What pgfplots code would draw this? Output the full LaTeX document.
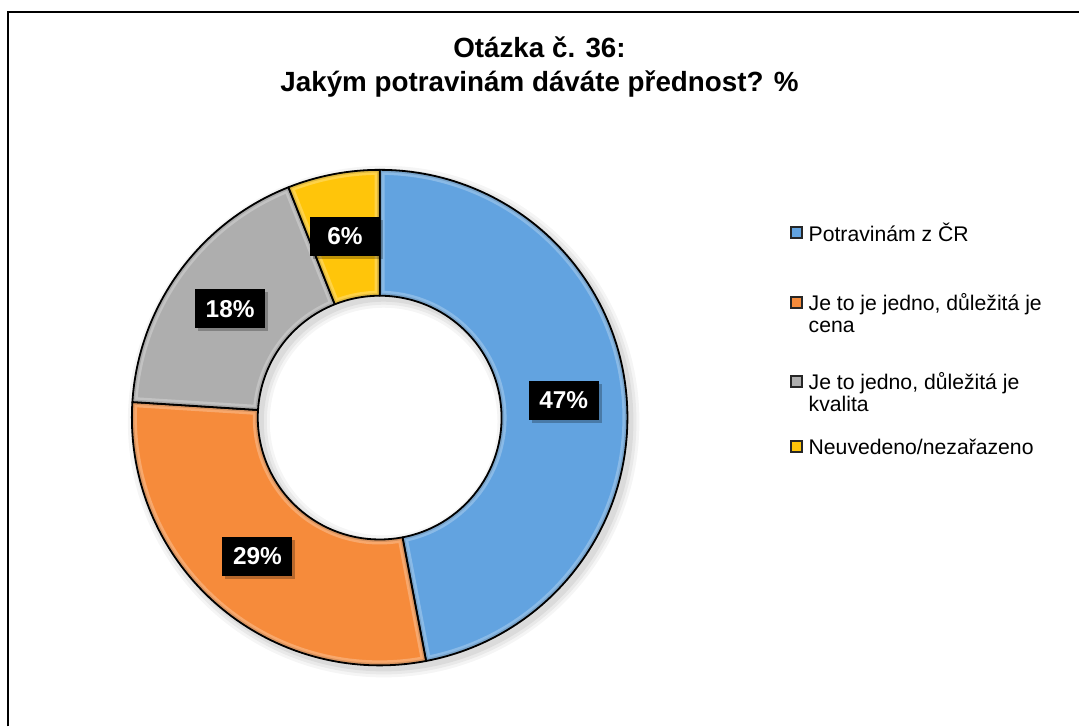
\documentclass[border=0pt]{standalone}
\usepackage{pgfplots}
\pgfplotsset{compat=1.18}
\usepackage{pgfplotstable}
\usepackage{fontspec}
\setmainfont{Liberation Sans}

\definecolor{c0}{HTML}{62A3E0}
\definecolor{c1}{HTML}{F68B3B}
\definecolor{c2}{HTML}{AEAEAE}
\definecolor{c3}{HTML}{FFC50A}

% share of each answer, in %
\pgfplotstableread{
idx value
0 47
1 29
2 18
3 6
}\donutdata

\begin{document}
\begin{tikzpicture}
\begin{axis}[
    x=0.5pt, y=0.5pt,
    xmin=0, xmax=1080, ymin=0, ymax=727,
    hide axis, clip=false,
]
% page extent
\path (axis cs:0,0) rectangle (axis cs:1080,727);
% frame of the chart area (only left and top edges are in view)
\draw[line width=1pt] (axis cs:8,0) -- (axis cs:8,715) -- (axis cs:1080,715);

% title
\node[font=\bfseries\fontsize{13.9}{17}\selectfont, align=center]
    at (axis cs:540,660) {Otázka č. 36:\\Jakým potravinám dáváte přednost? \%};

% soft shadow under the ring
\fill[black, opacity=0.04, even odd rule] (axis cs:384,305) circle[radius=128pt] (axis cs:384,305) circle[radius=57pt];
\fill[black, opacity=0.05, even odd rule] (axis cs:384,305) circle[radius=126.5pt] (axis cs:384,305) circle[radius=58.5pt];
\fill[black, opacity=0.06, even odd rule] (axis cs:384,305) circle[radius=125pt] (axis cs:384,305) circle[radius=60pt];

% the ring, centre (380,309), outer radius 248, inner radius 122 (axis units)
\def\cumangle{90}
\pgfplotsinvokeforeach{0,...,3}{
  \pgfplotstablegetelem{#1}{value}\of\donutdata
  \let\val\pgfplotsretval
  \pgfmathsetmacro\aA{\cumangle}
  \pgfmathsetmacro\aB{\cumangle-3.6*\val}
  \pgfmathsetmacro\aM{(\aA+\aB)/2}
  \pgfmathsetmacro\xo{380+248*cos(\aA)}
  \pgfmathsetmacro\yo{309+248*sin(\aA)}
  \pgfmathsetmacro\xi{380+122*cos(\aB)}
  \pgfmathsetmacro\yi{309+122*sin(\aB)}
  \pgfmathsetmacro\xm{380+185*cos(\aM)}
  \pgfmathsetmacro\ym{309+185*sin(\aM)}
  \pgfmathsetmacro\xs{\xm+3}
  \pgfmathsetmacro\ys{\ym-3}
  \xdef\cumangle{\aB}
  \edef\wedge{(axis cs:\xo,\yo) arc[start angle=\aA, end angle=\aB, radius=124pt]
        -- (axis cs:\xi,\yi) arc[start angle=\aB, end angle=\aA, radius=61pt] -- cycle}
  \edef\temp{%
    \noexpand\fill[c#1] \wedge;
    \noexpand\begin{scope}
    \noexpand\clip \wedge;
    \noexpand\draw[white, opacity=0.25, line width=5pt] \wedge;
    \noexpand\draw[black, opacity=0.12, line width=2.5pt] \wedge;
    \noexpand\end{scope}
    \noexpand\draw[black, line width=0.9pt, line join=round] \wedge;
    \noexpand\fill[black, opacity=0.25] (axis cs:\xs,\ys) +(-17.5pt,-9.75pt) rectangle +(17.5pt,9.75pt);
    \noexpand\node[fill=black, text=white, font=\noexpand\bfseries\noexpand\fontsize{12.2}{14}\noexpand\selectfont,
        minimum width=35pt, minimum height=19.5pt, inner sep=0pt]
        at (axis cs:\xm,\ym) {\val\noexpand\%};
  }%
  \temp
}

% legend
\filldraw[fill=c0, draw=black!85, line width=1.1pt] (axis cs:792,488.5) rectangle (axis cs:803,499.5);
\filldraw[fill=c1, draw=black!85, line width=1.1pt] (axis cs:792,418.5) rectangle (axis cs:803,429.5);
\filldraw[fill=c2, draw=black!85, line width=1.1pt] (axis cs:792,339.5) rectangle (axis cs:803,350.5);
\filldraw[fill=c3, draw=black!85, line width=1.1pt] (axis cs:792,274.5) rectangle (axis cs:803,285.5);
\begin{scope}[every node/.style={anchor=west, align=left, inner sep=0pt,
    font=\fontsize{10.6}{11}\selectfont}]
\node at (axis cs:809,494) {Potravinám z ČR};
\node[anchor=north west] at (axis cs:809,434) {Je to je jedno, důležitá je\\cena};
\node[anchor=north west] at (axis cs:809,355) {Je to jedno, důležitá je\\kvalita};
\node at (axis cs:809,280) {Neuvedeno/nezařazeno};
\end{scope}
\end{axis}
\end{tikzpicture}
\end{document}
